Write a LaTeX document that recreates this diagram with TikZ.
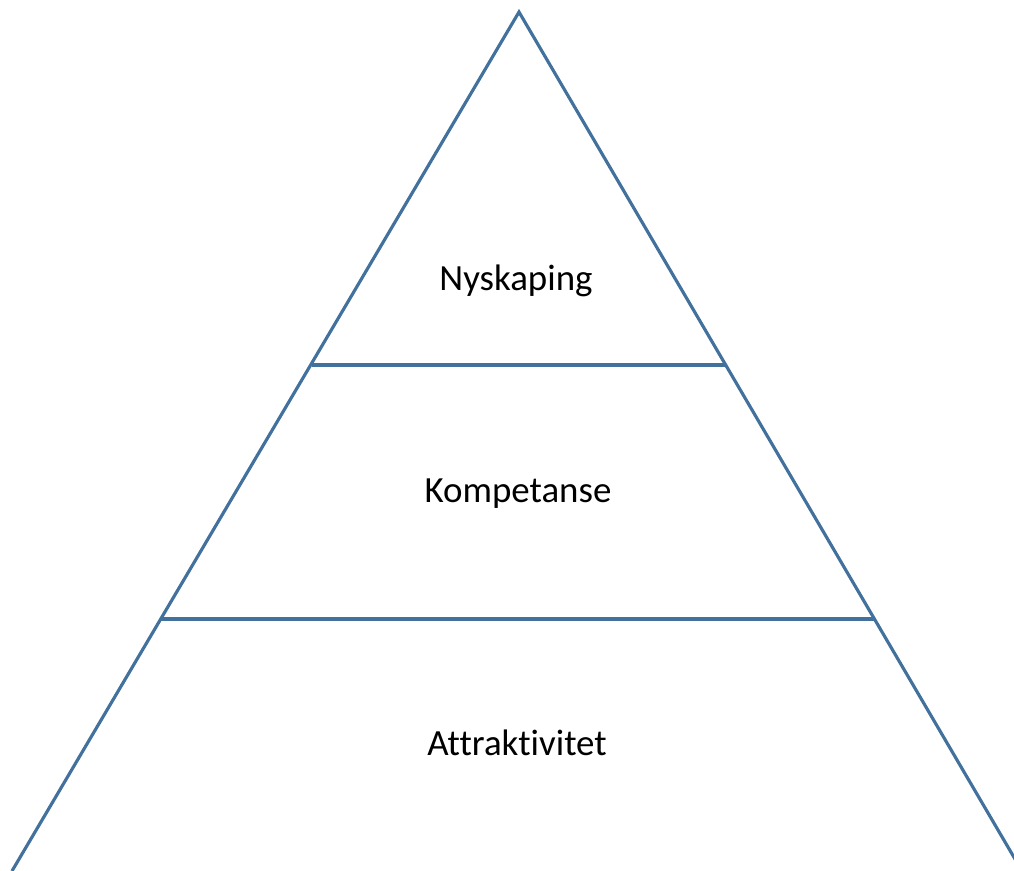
\documentclass[tikz,border=0pt]{standalone}
\usepackage{fontspec}
\setmainfont{Carlito}[Ligatures=NoCommon]
\usepackage{tikz}
\usetikzlibrary{positioning}
\definecolor{edgeblue}{RGB}{65,113,156}

\begin{document}
\begin{tikzpicture}[x=0.02cm, y=-0.02cm, semithick,
    side/.style={draw=edgeblue, line width=1.8pt},
    tier/.style={draw=edgeblue, line width=2.1pt},
    label/.style={font=\fontsize{21}{25}\selectfont, anchor=base, inner sep=0pt}]
  \useasboundingbox (0,0) rectangle (1014,871);
  \clip (0,0) rectangle (1014,871);

  % outline of the pyramid
  \coordinate (top) at (519,12);
  \coordinate (bl) at (12,871);
  \coordinate (br) at (1022,871);
  \draw[side, line join=miter] (bl) -- (top) -- (br);

  % tiers
  \coordinate (t1l) at (312,365);
  \coordinate (t1r) at (726,365);
  \coordinate (t2l) at (161,619);
  \coordinate (t2r) at (875,619);
  \draw[tier] (t1l) -- (t1r);
  \draw[tier] (t2l) -- (t2r);

  % labels
  \node[label] (nysk) at (516,291) {Nyskaping};
  \node[label] (komp) at (518,502) {Kompetanse};
  \node[label] (attr) at (517,755) {Attraktivitet};
\end{tikzpicture}
\end{document}
